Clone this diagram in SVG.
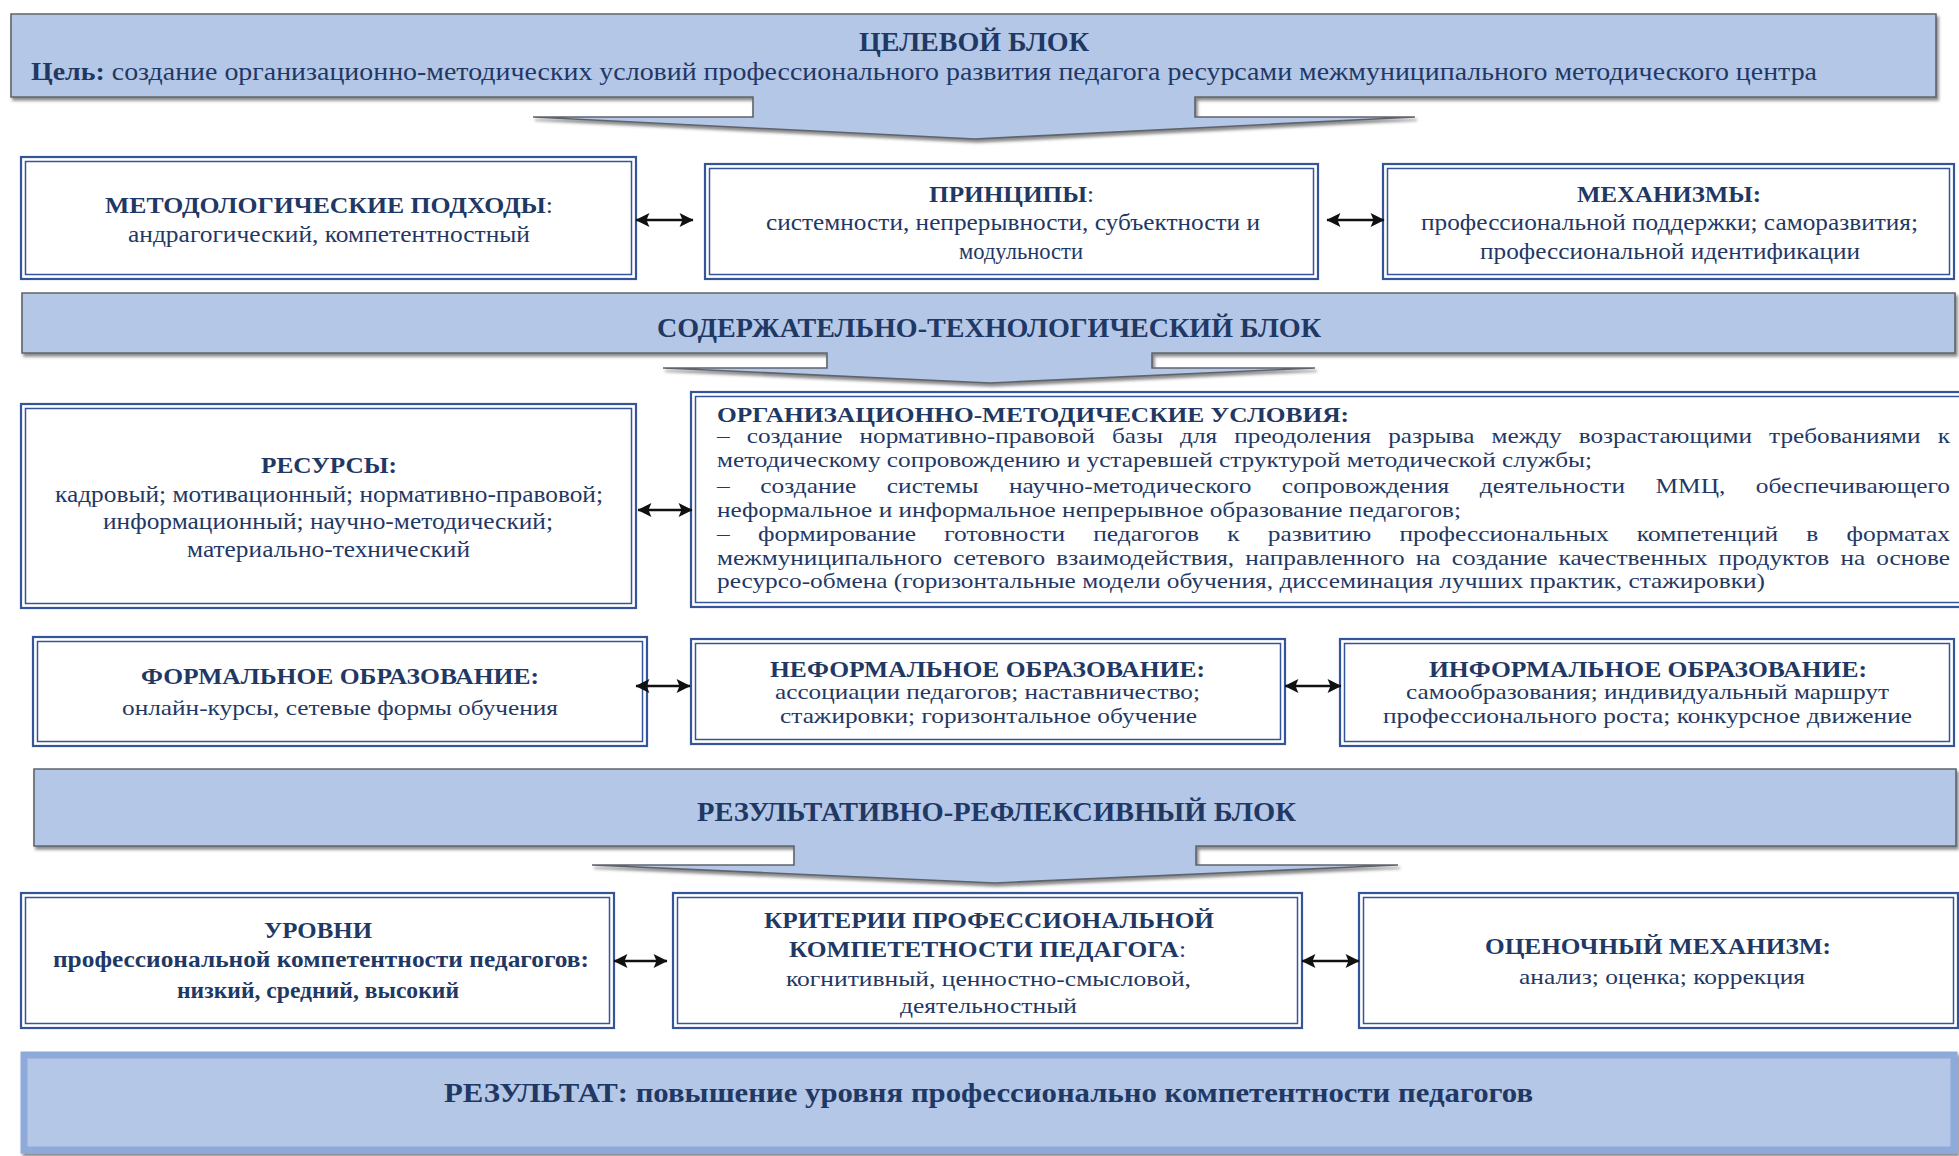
<svg xmlns="http://www.w3.org/2000/svg" width="1959" height="1156" viewBox="0 0 1959 1156">
<defs>
<style>
.t{font-family:"Liberation Serif","Times New Roman",serif;fill:#1f3864}
.b{font-weight:bold}
.h{font-size:24px;font-weight:bold}
.bd{font-size:23px}
.sm{font-size:21px}
.bn{fill:#b4c7e7;stroke:#5f646c;stroke-width:1.6;filter:url(#sh)}
.o{fill:#fff;stroke:#34559a;stroke-width:2.2}
.i{fill:none;stroke:#34559a;stroke-width:1.5}
.ar{stroke:#111;stroke-width:2.4;fill:none;marker-start:url(#ah);marker-end:url(#ah)}
</style>
<filter id="sh" x="-5%" y="-20%" width="110%" height="150%">
<feDropShadow dx="2" dy="3" stdDeviation="1.6" flood-color="#3a3a3a" flood-opacity="0.6"/>
</filter>
<marker id="ah" viewBox="0 0 12 12" refX="11.5" refY="6" markerWidth="15" markerHeight="14" markerUnits="userSpaceOnUse" orient="auto-start-reverse">
<path d="M0,0 L12,6 L0,12 L2.5,6 Z" fill="#111"/>
</marker>
</defs>
<rect width="1959" height="1156" fill="#fff"/>

<g id="target-block">
<path class="bn" d="M11,14 H1936 V97 H1195 V117 H1415 L975,139 L533,117 H753 V97 H11 Z"/>
<text class="t b" x="859" y="51" font-size="27" textLength="230" lengthAdjust="spacingAndGlyphs">ЦЕЛЕВОЙ БЛОК</text>
<text class="t" x="31" y="80" font-size="26" textLength="1786" lengthAdjust="spacingAndGlyphs"><tspan font-weight="bold">Цель:</tspan> создание организационно-методических условий профессионального развития педагога ресурсами межмуниципального методического центра</text>
</g>

<g id="approaches">
<rect class="o" x="21" y="157" width="615" height="122"/>
<rect class="i" x="25.5" y="161.5" width="606" height="113"/>
<text class="t h" x="105" y="213" textLength="448" lengthAdjust="spacingAndGlyphs">МЕТОДОЛОГИЧЕСКИЕ ПОДХОДЫ<tspan font-weight="normal">:</tspan></text>
<text class="t bd" x="128" y="242" textLength="402" lengthAdjust="spacingAndGlyphs">андрагогический, компетентностный</text>
</g>

<g id="principles">
<rect class="o" x="705" y="164" width="613" height="115"/>
<rect class="i" x="709.5" y="168.5" width="604" height="106"/>
<text class="t h" x="929" y="202" textLength="165" lengthAdjust="spacingAndGlyphs">ПРИНЦИПЫ<tspan font-weight="normal">:</tspan></text>
<text class="t bd" x="766" y="230" textLength="494" lengthAdjust="spacingAndGlyphs">системности, непрерывности, субъектности и</text>
<text class="t bd" x="959" y="259" textLength="124" lengthAdjust="spacingAndGlyphs">модульности</text>
</g>

<g id="mechanisms">
<rect class="o" x="1383" y="164" width="571" height="115"/>
<rect class="i" x="1387.5" y="168.5" width="562" height="106"/>
<text class="t h" x="1577" y="202" textLength="184" lengthAdjust="spacingAndGlyphs">МЕХАНИЗМЫ:</text>
<text class="t bd" x="1421" y="230" textLength="497" lengthAdjust="spacingAndGlyphs">профессиональной поддержки; саморазвития;</text>
<text class="t bd" x="1480" y="259" textLength="380" lengthAdjust="spacingAndGlyphs">профессиональной идентификации</text>
</g>

<g id="content-block">
<path class="bn" d="M22,293 H1955 V353 H1152 V368 H1315 L990,383 L663,368 H827 V353 H22 Z"/>
<text class="t b" x="657" y="337" font-size="27" textLength="664" lengthAdjust="spacingAndGlyphs">СОДЕРЖАТЕЛЬНО-ТЕХНОЛОГИЧЕСКИЙ БЛОК</text>
</g>

<g id="resources">
<rect class="o" x="21" y="404" width="615" height="204"/>
<rect class="i" x="25.5" y="408.5" width="606" height="195"/>
<text class="t h" x="261" y="473" textLength="136" lengthAdjust="spacingAndGlyphs">РЕСУРСЫ:</text>
<text class="t bd" x="55" y="502" textLength="548" lengthAdjust="spacingAndGlyphs">кадровый; мотивационный; нормативно-правовой;</text>
<text class="t bd" x="103" y="529" textLength="450" lengthAdjust="spacingAndGlyphs">информационный; научно-методический;</text>
<text class="t bd" x="187" y="557" textLength="283" lengthAdjust="spacingAndGlyphs">материально-технический</text>
</g>

<g id="conditions">
<rect class="o" x="691" y="392" width="1275" height="215"/>
<rect class="i" x="695.5" y="396.5" width="1266" height="206"/>
<text class="t b sm" x="717" y="422" textLength="632" lengthAdjust="spacingAndGlyphs">ОРГАНИЗАЦИОННО-МЕТОДИЧЕСКИЕ УСЛОВИЯ:</text>
<text class="t sm" x="717" y="443" word-spacing="9" textLength="1233" lengthAdjust="spacingAndGlyphs">– создание нормативно-правовой базы для преодоления разрыва между возрастающими требованиями к</text>
<text class="t sm" x="717" y="467" textLength="875" lengthAdjust="spacingAndGlyphs">методическому сопровождению и устаревшей структурой методической службы;</text>
<text class="t sm" x="717" y="493" word-spacing="20" textLength="1233" lengthAdjust="spacingAndGlyphs">– создание системы научно-методического сопровождения деятельности ММЦ, обеспечивающего</text>
<text class="t sm" x="717" y="517" textLength="744" lengthAdjust="spacingAndGlyphs">неформальное и информальное непрерывное образование педагогов;</text>
<text class="t sm" x="717" y="541" word-spacing="18" textLength="1233" lengthAdjust="spacingAndGlyphs">– формирование готовности педагогов к развитию профессиональных компетенций в форматах</text>
<text class="t sm" x="717" y="565" word-spacing="4" textLength="1233" lengthAdjust="spacingAndGlyphs">межмуниципального сетевого взаимодействия, направленного на создание качественных продуктов на основе</text>
<text class="t sm" x="717" y="588" textLength="1048" lengthAdjust="spacingAndGlyphs">ресурсо-обмена (горизонтальные модели обучения, диссеминация лучших практик, стажировки)</text>
</g>

<g id="formal">
<rect class="o" x="33" y="637" width="614" height="109"/>
<rect class="i" x="37.5" y="641.5" width="605" height="100"/>
<text class="t h" x="141" y="684" textLength="398" lengthAdjust="spacingAndGlyphs">ФОРМАЛЬНОЕ ОБРАЗОВАНИЕ:</text>
<text class="t" font-size="22" x="122" y="715" textLength="436" lengthAdjust="spacingAndGlyphs">онлайн-курсы, сетевые формы обучения</text>
</g>

<g id="nonformal">
<rect class="o" x="691" y="639" width="594" height="105"/>
<rect class="i" x="695.5" y="643.5" width="585" height="96"/>
<text class="t h" x="770" y="677" textLength="435" lengthAdjust="spacingAndGlyphs">НЕФОРМАЛЬНОЕ ОБРАЗОВАНИЕ:</text>
<text class="t sm" x="775" y="699" textLength="425" lengthAdjust="spacingAndGlyphs">ассоциации педагогов; наставничество;</text>
<text class="t sm" x="780" y="723" textLength="417" lengthAdjust="spacingAndGlyphs">стажировки; горизонтальное обучение</text>
</g>

<g id="informal">
<rect class="o" x="1340" y="639" width="614" height="107"/>
<rect class="i" x="1344.5" y="643.5" width="605" height="98"/>
<text class="t h" x="1429" y="677" textLength="438" lengthAdjust="spacingAndGlyphs">ИНФОРМАЛЬНОЕ ОБРАЗОВАНИЕ:</text>
<text class="t sm" x="1406" y="699" textLength="483" lengthAdjust="spacingAndGlyphs">самообразования; индивидуальный маршрут</text>
<text class="t sm" x="1383" y="723" textLength="529" lengthAdjust="spacingAndGlyphs">профессионального роста; конкурсное движение</text>
</g>

<g id="result-block">
<path class="bn" d="M34,769 H1956 V846 H1196 V865 H1398 L995,883 L592,865 H794 V846 H34 Z"/>
<text class="t b" x="697" y="821" font-size="27" textLength="599" lengthAdjust="spacingAndGlyphs">РЕЗУЛЬТАТИВНО-РЕФЛЕКСИВНЫЙ БЛОК</text>
</g>

<g id="levels">
<rect class="o" x="21" y="893" width="593" height="135"/>
<rect class="i" x="25.5" y="897.5" width="584" height="126"/>
<text class="t h" x="264" y="938" textLength="108" lengthAdjust="spacingAndGlyphs">УРОВНИ</text>
<text class="t h" x="53" y="967" textLength="536" lengthAdjust="spacingAndGlyphs">профессиональной компетентности педагогов:</text>
<text class="t b bd" x="177" y="998" textLength="282" lengthAdjust="spacingAndGlyphs">низкий, средний, высокий</text>
</g>

<g id="criteria">
<rect class="o" x="673" y="893" width="629" height="135"/>
<rect class="i" x="677.5" y="897.5" width="620" height="126"/>
<text class="t h" x="764" y="928" textLength="450" lengthAdjust="spacingAndGlyphs">КРИТЕРИИ ПРОФЕССИОНАЛЬНОЙ</text>
<text class="t h" x="789" y="957" textLength="397" lengthAdjust="spacingAndGlyphs">КОМПЕТЕТНОСТИ ПЕДАГОГА<tspan font-weight="normal">:</tspan></text>
<text class="t" font-size="22" x="786" y="986" textLength="405" lengthAdjust="spacingAndGlyphs">когнитивный, ценностно-смысловой,</text>
<text class="t" font-size="22" x="900" y="1013" textLength="177" lengthAdjust="spacingAndGlyphs">деятельностный</text>
</g>

<g id="evaluation">
<rect class="o" x="1359" y="893" width="599" height="135"/>
<rect class="i" x="1363.5" y="897.5" width="590" height="126"/>
<text class="t h" x="1485" y="954" textLength="346" lengthAdjust="spacingAndGlyphs">ОЦЕНОЧНЫЙ МЕХАНИЗМ:</text>
<text class="t" font-size="22" x="1519" y="984" textLength="286" lengthAdjust="spacingAndGlyphs">анализ; оценка; коррекция</text>
</g>

<g id="result">
<rect x="24" y="1055" width="1930" height="95" fill="#b4c7e7" stroke="#8eaadb" stroke-width="7" filter="url(#sh)"/>
<text class="t b" x="444" y="1102" font-size="27" textLength="1089" lengthAdjust="spacingAndGlyphs">РЕЗУЛЬТАТ: повышение уровня профессионально компетентности педагогов</text>
</g>

<g id="connectors">
<line class="ar" x1="636" y1="220" x2="693" y2="220"/>
<line class="ar" x1="1327" y1="220" x2="1384" y2="220"/>
<line class="ar" x1="638" y1="510" x2="692" y2="510"/>
<line class="ar" x1="636" y1="686" x2="690" y2="686"/>
<line class="ar" x1="1285" y1="686" x2="1341" y2="686"/>
<line class="ar" x1="614" y1="961" x2="667" y2="961"/>
<line class="ar" x1="1302" y1="961" x2="1359" y2="961"/>
</g>
</svg>
